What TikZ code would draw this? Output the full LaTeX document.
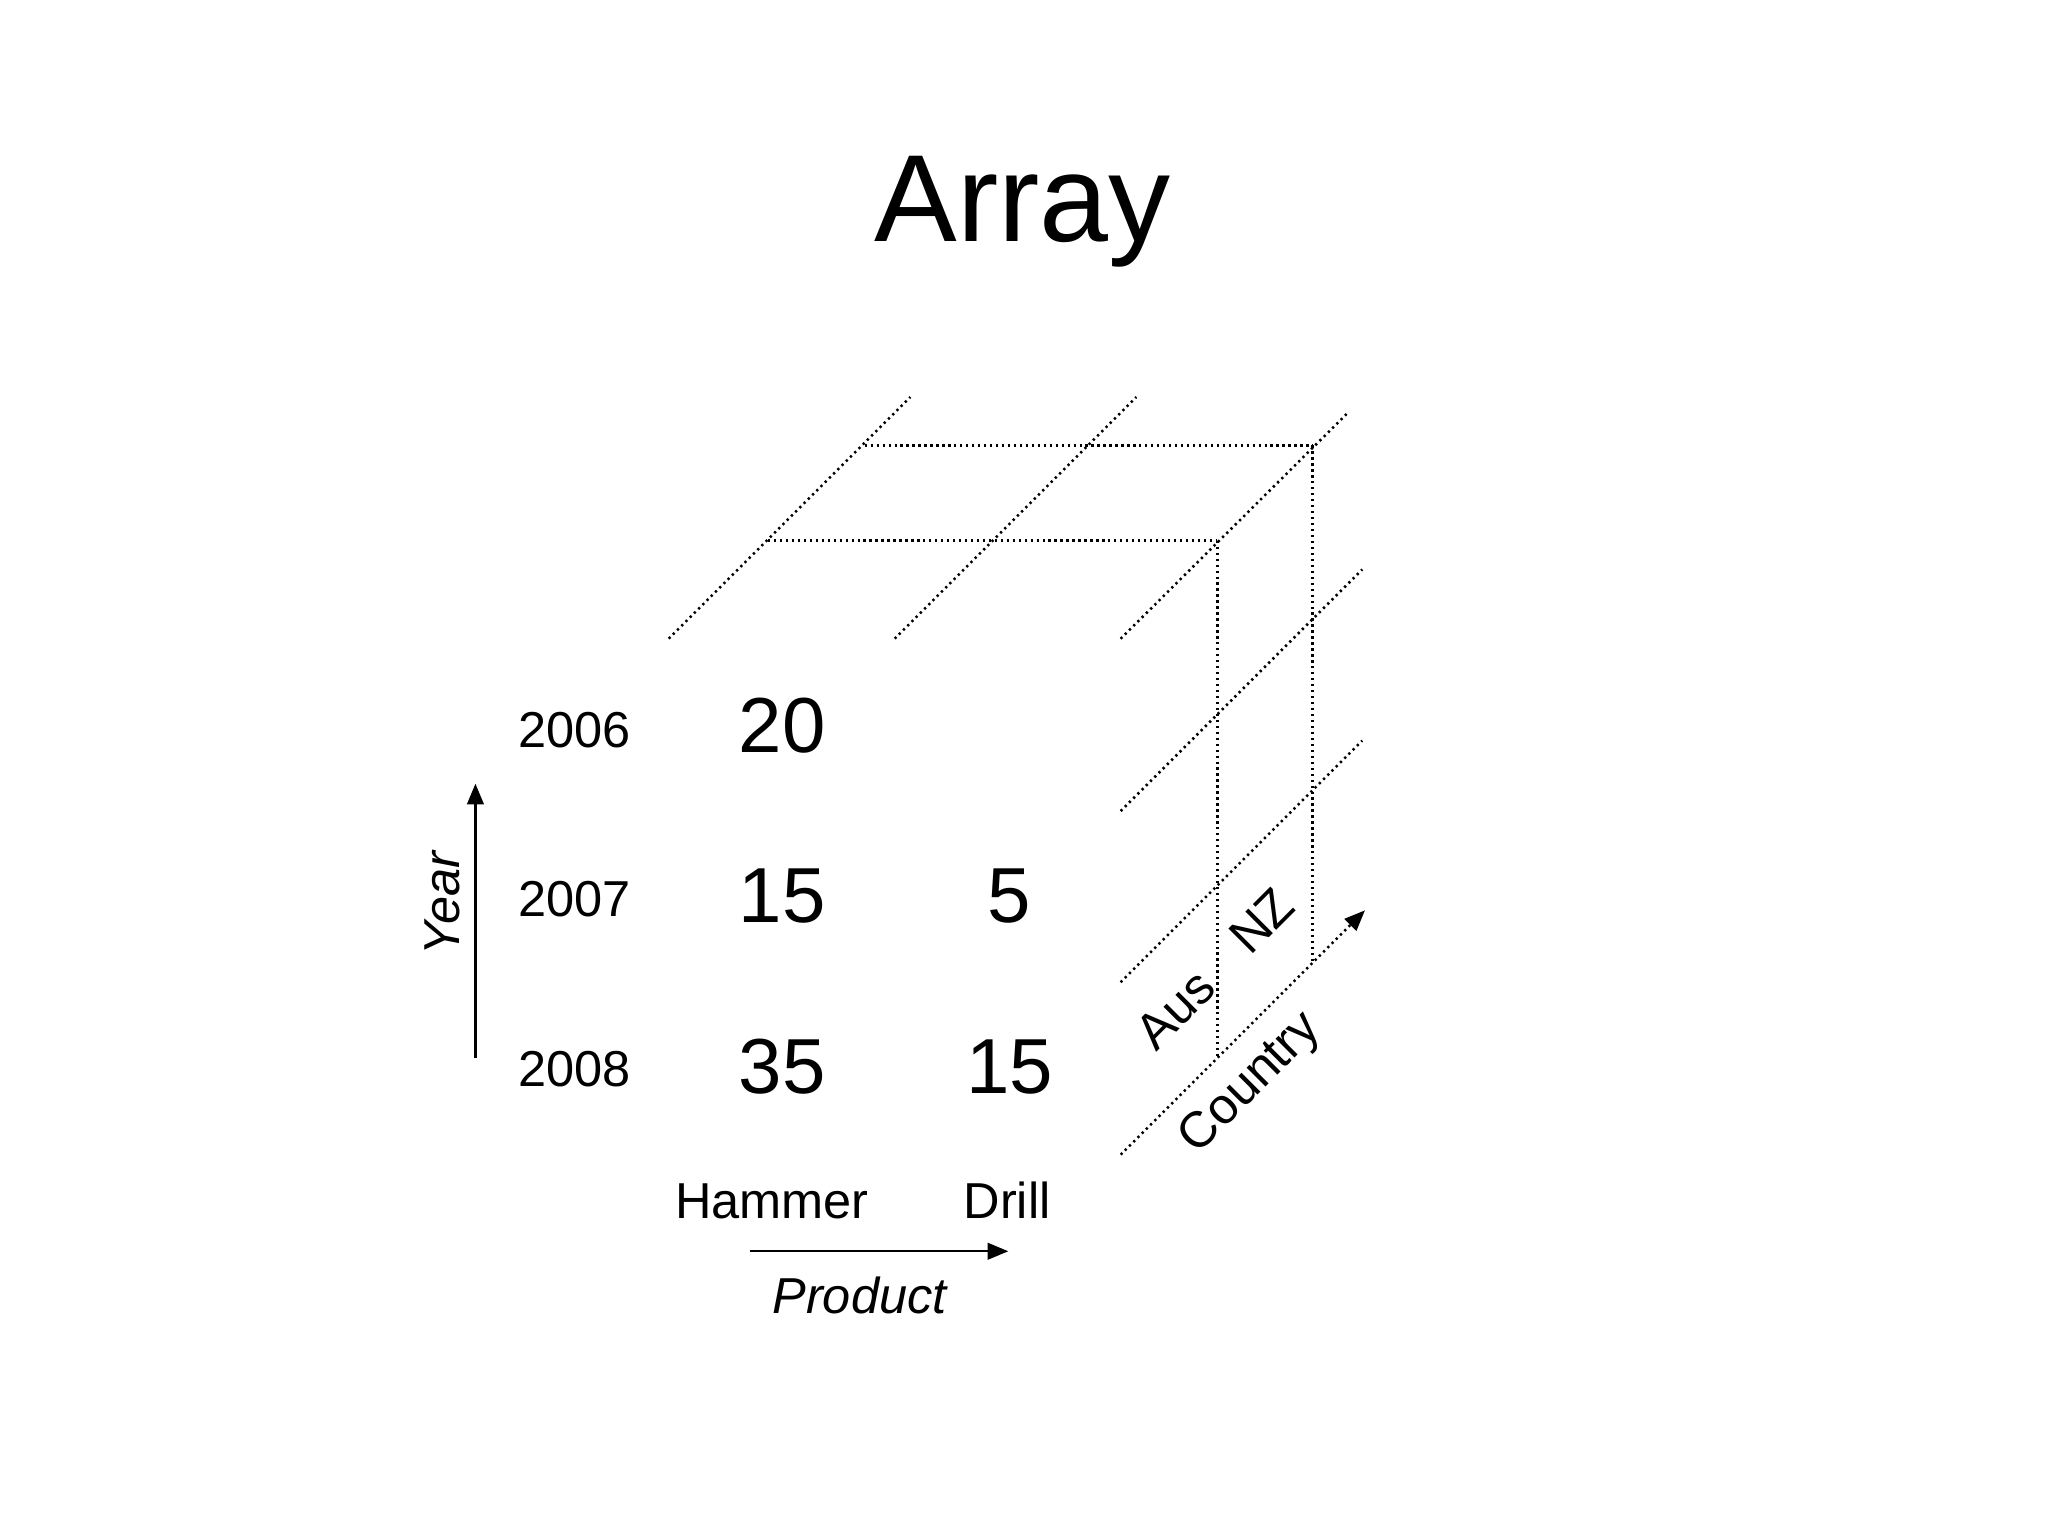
\documentclass[tikz,border=0pt]{standalone}
\usepackage{fontspec}
\setmainfont{Liberation Sans}
\usetikzlibrary{arrows.meta}

\tikzset{
    gridline/.style={line width=0.55pt, dash pattern=on 0.5pt off 0.8pt},
    axisarrow/.style={line width=0.5pt, -{Triangle[length=4.5pt,width=3.6pt]}},
    cell/.style={font=\fontsize{17}{20}\selectfont, anchor=base},
    tag/.style={font=\fontsize{11}{13}\selectfont},
}

\begin{document}
\begin{tikzpicture}

    \useasboundingbox (0,0) rectangle (15.68,-11.76);

    \node[font=\fontsize{27}{32}\selectfont, anchor=base] (title) at (7.83,-1.85) {Array};

    % top face
    \draw[gridline] (5.12,-4.89) -- (6.97,-3.04);
    \draw[gridline] (6.85,-4.89) -- (8.70,-3.04);
    \draw[gridline] (8.58,-4.89) -- (10.31,-3.17);
    \draw[gridline] (6.62,-3.41) -- (10.05,-3.41);
    \draw[gridline] (5.88,-4.14) -- (9.32,-4.14);

    % side face
    \draw[gridline] (9.32,-4.14) -- (9.32,-8.10);
    \draw[gridline] (10.05,-3.41) -- (10.05,-7.37);
    \draw[gridline] (8.58,-6.21) -- (10.43,-4.36);
    \draw[gridline] (8.58,-7.52) -- (10.43,-5.67);

    \coordinate (c0) at (8.58,-8.84);
    \coordinate (c1) at (10.45,-6.97);
    \draw[gridline, -{Triangle[length=4.5pt,width=3.6pt]}] (c0) -- (c1);

    % values
    \node[cell] (v11) at (5.99,-5.76) {20};
    \node[cell] (v21) at (5.99,-7.06) {15};
    \node[cell] (v22) at (7.73,-7.06) {5};
    \node[cell] (v31) at (5.99,-8.37) {35};
    \node[cell] (v32) at (7.73,-8.37) {15};

    % years
    \node[tag, anchor=base] (y1) at (4.40,-5.72) {2006};
    \node[tag, anchor=base] (y2) at (4.40,-7.02) {2007};
    \node[tag, anchor=base] (y3) at (4.40,-8.32) {2008};

    \coordinate (ya) at (3.64,-8.10);
    \coordinate (yb) at (3.64,-6.00);
    \draw[axisarrow] (ya) -- (yb);
    \node[tag, rotate=90, anchor=base, font=\fontsize{11}{13}\selectfont\itshape] (year) at (3.52,-6.92) {Year};

    % products
    \node[tag, anchor=base] (p1) at (5.91,-9.33) {Hammer};
    \node[tag, anchor=base] (p2) at (7.71,-9.33) {Drill};

    \coordinate (pa) at (5.74,-9.58);
    \coordinate (pb) at (7.72,-9.58);
    \draw[axisarrow] (pa) -- (pb);
    \node[tag, anchor=base, font=\fontsize{11}{13}\selectfont\itshape] (product) at (6.58,-10.06) {Product};

    % countries
    \node[tag, rotate=45] (aus) at (9.00,-7.73) {Aus};
    \node[tag, rotate=45] (nz) at (9.66,-7.05) {NZ};
    \node[tag, rotate=45] (country) at (9.58,-8.30) {Country};

\end{tikzpicture}
\end{document}
